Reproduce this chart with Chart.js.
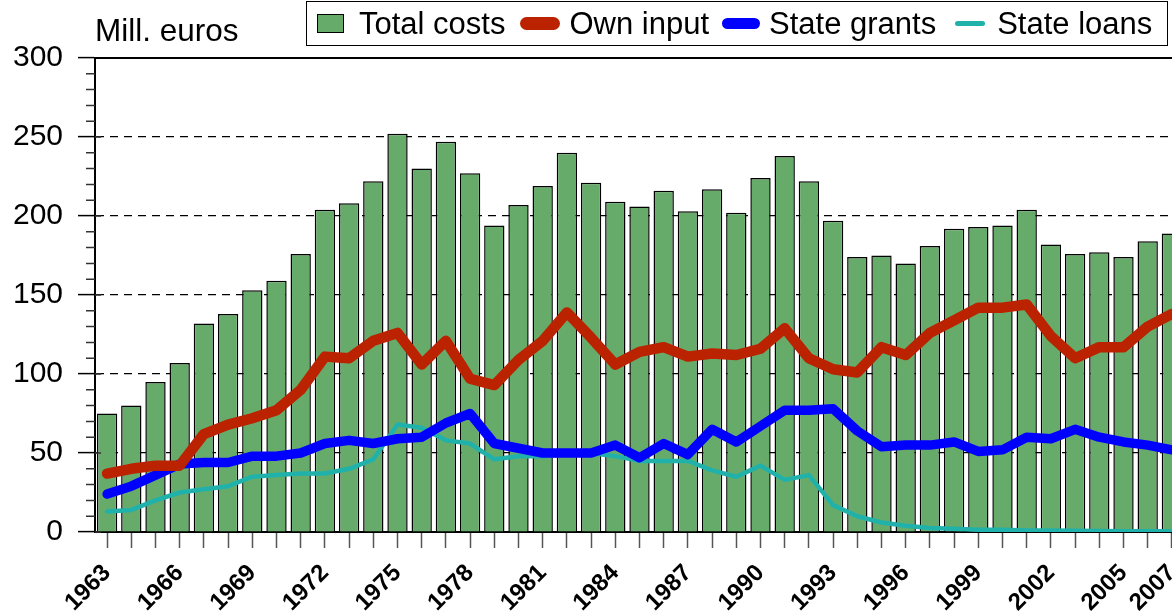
<!DOCTYPE html>
<html lang="en">
<head>
  <meta charset="UTF-8" />
  <title>Costs</title>
  <script src="https://cdn.jsdelivr.net/npm/chart.js"></script>
  <style>
    body {
      margin: 0;
      width: 1172px;
      height: 612px;
      overflow: hidden;
      background: #fff;
      font-family: 'Liberation Sans', Arial, sans-serif;
    }
    #wrap {
      position: absolute;
      left: 0;
      top: 0;
      width: 1186px;
      height: 612px;
    }
    #unit {
      position: absolute;
      left: 95px;
      top: 15px;
      font-size: 31.5px;
      line-height: 31.5px;
      color: #000;
    }
    #legend {
      position: absolute;
      left: 306px;
      top: 1px;
      width: 862px;
      height: 45px;
      box-sizing: border-box;
      border: 1.5px solid #000;
      display: flex;
      align-items: center;
      padding-left: 10px;
      font-size: 31px;
      color: #000;
      white-space: nowrap;
    }
    .item { display: flex; align-items: center; }
    .sw { display: inline-block; }
  </style>
</head>
<body>
  <div id="wrap"><canvas id="chart"></canvas></div>
  <div id="unit">Mill. euros</div>
  <div id="legend"></div>

  <script>
    const years = [1963, 1964, 1965, 1966, 1967, 1968, 1969, 1970, 1971, 1972, 1973, 1974, 1975, 1976, 1977,
                   1978, 1979, 1980, 1981, 1982, 1983, 1984, 1985, 1986, 1987, 1988, 1989, 1990, 1991, 1992,
                   1993, 1994, 1995, 1996, 1997, 1998, 1999, 2000, 2001, 2002, 2003, 2004, 2005, 2006, 2007];
    const labelledYears = [1963, 1966, 1969, 1972, 1975, 1978, 1981, 1984, 1987, 1990, 1993, 1996, 1999, 2002, 2005, 2007];

    const totalCosts = [75, 80, 95, 107, 132, 138, 153, 159, 176, 204, 208, 222, 252, 230, 247,
                        227, 194, 207, 219, 240, 221, 209, 206, 216, 203, 217, 202, 224, 238, 222,
                        197, 174, 175, 170, 181, 192, 193, 194, 204, 182, 176, 177, 174, 184, 189];
    const ownInput = [37, 40, 42, 42, 62, 68, 72, 77, 90, 111, 110, 121, 126, 106, 121,
                      97, 93, 109, 121, 139, 123, 106, 114, 117, 111, 113, 112, 116, 129, 110,
                      103, 101, 117, 112, 126, 134, 142, 142, 144, 124, 110, 117, 117, 130, 138];
    const stateGrants = [24, 29, 36, 43, 44, 44, 48, 48, 50, 56, 58, 56, 59, 60, 69,
                         75, 56, 53, 50, 50, 50, 55, 47, 56, 49, 65, 57, 67, 77, 77,
                         78, 64, 54, 55, 55, 57, 51, 52, 60, 59, 65, 60, 57, 55, 52];
    const stateLoans = [13, 14, 20, 25, 27, 29, 35, 36, 37, 37, 40, 46, 68, 66, 58,
                        56, 46, 48, 48, 49, 50, 48, 45, 45, 45, 39, 35, 42, 33, 36,
                        17, 10, 6, 4, 2.5, 2, 1.5, 1.5, 1, 1, 0.8, 0.6, 0.5, 0.5, 0.5];

    const seriesNames = ['Total costs', 'Own input', 'State grants', 'State loans'];
    const yTicks = [0, 50, 100, 150, 200, 250, 300];

    const green = '#67ab6b';
    const red = '#bb2200';
    const blue = '#0000ff';
    const teal = '#20b2aa';

    Chart.defaults.font.family = "'Liberation Sans', Arial, sans-serif";
    Chart.defaults.color = '#000';

    // minor ticks on the y axis + top frame line
    const axisExtras = {
      id: 'axisExtras',
      afterDraw(chart) {
        const { ctx, chartArea, scales: { y } } = chart;
        ctx.save();
        ctx.lineWidth = 1.5;
        ctx.strokeStyle = '#333';
        ctx.beginPath();
        for (let v = yTicks[0]; v <= yTicks[yTicks.length - 1]; v += 10) {
          const py = y.getPixelForValue(v);
          if (v % 50 === 0) {
            ctx.moveTo(chartArea.left, py);
            ctx.lineTo(chartArea.left + 6, py);
          } else {
            ctx.moveTo(chartArea.left - 9, py);
            ctx.lineTo(chartArea.left, py);
          }
        }
        ctx.stroke();
        ctx.strokeStyle = '#000';
        ctx.lineWidth = 2;
        ctx.beginPath();
        ctx.moveTo(chartArea.left, chartArea.top);
        ctx.lineTo(chartArea.right, chartArea.top);
        ctx.stroke();
        ctx.restore();
      }
    };

    const lineDs = (label, data, color, width, order) => ({
      type: 'line',
      label,
      data,
      borderColor: color,
      backgroundColor: color,
      borderWidth: width,
      pointRadius: 0,
      tension: 0,
      borderCapStyle: 'round',
      borderJoinStyle: 'round',
      order
    });

    new Chart(document.getElementById('chart'), {
      type: 'bar',
      data: {
        labels: years,
        datasets: [
          {
            label: seriesNames[0],
            data: totalCosts,
            backgroundColor: green,
            borderColor: '#000',
            borderWidth: 1.5,
            barPercentage: 0.84,
            categoryPercentage: 1,
            order: 4
          },
          lineDs(seriesNames[1], ownInput, red, 10.5, 1),
          lineDs(seriesNames[2], stateGrants, blue, 9.5, 2),
          lineDs(seriesNames[3], stateLoans, teal, 4.5, 3)
        ]
      },
      options: {
        responsive: true,
        maintainAspectRatio: false,
        animation: false,
        layout: { padding: { top: 58, right: 2, left: 0, bottom: 0 } },
        plugins: {
          legend: { display: false },
          tooltip: { enabled: false }
        },
        scales: {
          x: {
            afterFit: s => { s.height = 80; s.paddingLeft = 0; s.paddingRight = 0; },
            grid: {
              offset: false,
              drawOnChartArea: false,
              drawTicks: true,
              tickLength: 16,
              tickColor: '#555',
              tickWidth: 1.5
            },
            border: { color: '#000', width: 2 },
            ticks: {
              autoSkip: false,
              maxRotation: 45,
              minRotation: 45,
              padding: 11,
              font: { size: 24, weight: 'bold' },
              callback: function (v, i) {
                const yr = years[i];
                return labelledYears.includes(yr) ? String(yr) : '';
              }
            }
          },
          y: {
            min: yTicks[0],
            max: yTicks[yTicks.length - 1],
            afterFit: s => { s.width = 95; },
            afterBuildTicks: s => { s.ticks = yTicks.map(v => ({ value: v })); },
            grid: {
              color: c => (c.tick && (c.tick.value === 0 || c.tick.value === 300)) ? 'rgba(0,0,0,0)' : '#000',
              lineWidth: 1.2,
              tickLength: 17,
              tickColor: '#000',
              tickWidth: 1.5
            },
            border: { color: '#000', width: 2, dash: [8, 6] },
            ticks: {
              padding: 15,
              font: { size: 30 }
            }
          }
        }
      },
      plugins: [axisExtras]
    });

    // boxed legend
    const legendSwatches = [
      { w: 27, h: 19, bg: green, border: '1.5px solid #000', radius: 0, gapL: 0, gapR: 15 },
      { w: 40, h: 13, bg: red, border: 'none', radius: 7, gapL: 15, gapR: 9 },
      { w: 38, h: 11, bg: blue, border: 'none', radius: 6, gapL: 13, gapR: 9 },
      { w: 30, h: 5, bg: teal, border: 'none', radius: 3, gapL: 19, gapR: 12 }
    ];
    const legend = document.getElementById('legend');
    seriesNames.forEach((name, i) => {
      const s = legendSwatches[i];
      const item = document.createElement('span');
      item.className = 'item';
      item.style.marginLeft = s.gapL + 'px';
      const sw = document.createElement('span');
      sw.className = 'sw';
      sw.style.cssText = `width:${s.w}px;height:${s.h}px;background:${s.bg};border:${s.border};border-radius:${s.radius}px;margin-right:${s.gapR}px;box-sizing:border-box;`;
      const txt = document.createElement('span');
      txt.textContent = name;
      item.appendChild(sw);
      item.appendChild(txt);
      legend.appendChild(item);
    });
  </script>
</body>
</html>
